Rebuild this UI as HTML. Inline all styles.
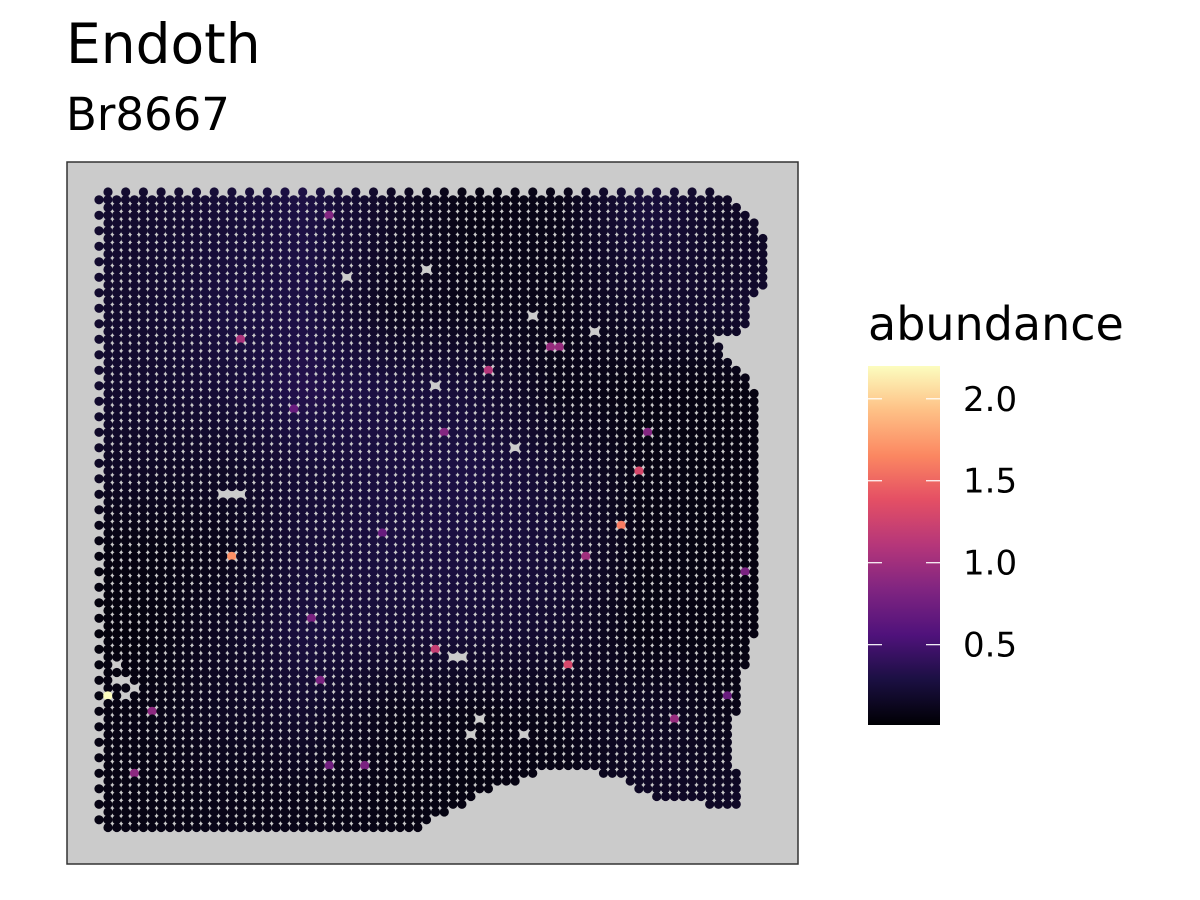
<!DOCTYPE html>
<html><head><meta charset="utf-8"><style>
body{margin:0;background:#fff;}
svg{display:block;font-family:"DejaVu Sans","Liberation Sans",sans-serif;}
</style></head><body>
<svg id="chart" width="1200" height="900" viewBox="0 0 1200 900">
<defs>
<linearGradient id="magma" x1="0" y1="1" x2="0" y2="0">
<stop offset="0" stop-color="#000004"/><stop offset="0.13" stop-color="#1c1044"/><stop offset="0.25" stop-color="#4f127b"/><stop offset="0.38" stop-color="#812581"/><stop offset="0.5" stop-color="#b5367a"/><stop offset="0.63" stop-color="#e55064"/><stop offset="0.75" stop-color="#fb8761"/><stop offset="0.88" stop-color="#fec287"/><stop offset="1" stop-color="#fcfdbf"/>
</linearGradient>
</defs>
<text x="66" y="63" font-size="55" fill="#000">Endoth</text>
<text x="66" y="130" font-size="45" fill="#000">Br8667</text>
<rect x="67" y="162" width="731" height="702" fill="#cbcbcb" stroke="#333" stroke-width="1.5"/>
<g id="spots"></g>
<text x="868" y="340" font-size="46" fill="#000">abundance</text>
<rect x="868" y="366" width="72" height="359" fill="url(#magma)"/>
<g id="legend"></g>
</svg>
<script>
// colour scale
const legendTicks = [0.5, 1.0, 1.5, 2.0];
const valueMin = 0.01, valueMax = 2.2;
// coarse regional mean abundance (8 rows x 8 cols over tissue)
const regionRow0 = [0.20,0.24,0.30,0.16,0.08,0.10,0.26,0.16];
const regionRow1 = [0.20,0.28,0.30,0.12,0.10,0.10,0.18,0.20];
const regionRow2 = [0.20,0.24,0.34,0.28,0.24,0.10,0.07,0.07];
const regionRow3 = [0.16,0.16,0.24,0.28,0.30,0.20,0.08,0.07];
const regionRow4 = [0.07,0.10,0.24,0.28,0.28,0.24,0.08,0.07];
const regionRow5 = [0.05,0.15,0.28,0.24,0.24,0.20,0.07,0.07];
const regionRow6 = [0.08,0.15,0.20,0.10,0.08,0.10,0.16,0.10];
const regionRow7 = [0.08,0.10,0.10,0.08,0.07,0.08,0.16,0.16];
// notable high spots
const hotX = [108,231,625,643,572,432,485,240,555,582,678,152,134,652,441,327,362,326,310,318,748,730,293,605,380];
const hotY = [697,556,522,470,662,652,370,340,350,556,722,713,773,435,435,217,763,763,621,678,573,692,410,782,530];
const hotV = [2.2,1.7,1.6,1.3,1.3,1.2,1.1,1.05,0.95,1.0,0.95,0.9,0.9,0.85,0.85,0.85,0.8,0.75,0.8,0.8,0.8,0.7,0.7,0.7,0.7];
// missing spots
const holeX = [345,423,529,599,433,512,222,230,238,117,450,459,476,467,520,126,134,117,126];
const holeY = [279,273,314,334,389,444,491,491,491,662,655,660,717,733,733,680,690,680,697];
// tissue outline
const rightEdgeY = [190,205,225,240,290,305,330,340,350,370,390,620,650,700,740,770,800,840];
const rightEdgeX = [720,735,756,766,766,745,745,712,722,740,757,757,750,738,730,736,740,730];
const bottomEdgeX = [90,410,420,460,500,540,580,620,660,700,745,780];
const bottomEdgeY = [832,832,825,805,785,772,765,778,800,803,805,805];

const mag = ["#000004","#1c1044","#4f127b","#812581","#b5367a","#e55064","#fb8761","#fec287","#fcfdbf"];
const magPos = [0,0.13,0.25,0.38,0.5,0.63,0.75,0.88,1];
function hex2(c){return [1,3,5].map(i=>parseInt(c.substr(i,2),16));}
function color(v){
  let t=Math.max(0,Math.min(1,(v-valueMin)/(valueMax-valueMin)));
  for(let i=1;i<magPos.length;i++){ if(t<=magPos[i]){
    const f=(t-magPos[i-1])/(magPos[i]-magPos[i-1]); const a=hex2(mag[i-1]), b=hex2(mag[i]);
    return "rgb("+a.map((x,k)=>Math.round(x+(b[k]-x)*f)).join(",")+")";}}
  return mag[8];
}
function interp(xs,ys,x){
  if(x<=xs[0])return ys[0];
  for(let i=1;i<xs.length;i++) if(x<=xs[i]) return ys[i-1]+(ys[i]-ys[i-1])*(x-xs[i-1])/(xs[i]-xs[i-1]);
  return ys[ys.length-1];
}
const regions=[regionRow0,regionRow1,regionRow2,regionRow3,regionRow4,regionRow5,regionRow6,regionRow7];
function regionVal(x,y){
  const gx=Math.max(0,Math.min(7,(x-95)/84.4-0.5)), gy=Math.max(0,Math.min(7,(y-188)/81-0.5));
  const i0=Math.floor(gx), j0=Math.floor(gy), i1=Math.min(7,i0+1), j1=Math.min(7,j0+1);
  const fx=gx-i0, fy=gy-j0;
  const a=regions[j0][i0]*(1-fx)+regions[j0][i1]*fx, b=regions[j1][i0]*(1-fx)+regions[j1][i1]*fx;
  return a*(1-fy)+b*fy;
}
const NS="http://www.w3.org/2000/svg";
const g=document.getElementById("spots");
const dx=8.85, dy=7.75, r=4.6;
for(let row=0; ; row++){
  const y=192+row*dy; if(y>834)break;
  const off=(row%2===0)?9:0;
  const xmax=interp(rightEdgeY,rightEdgeX,y);
  for(let x=99+off; x<=xmax+0.5; x+=dx){
    if(y>interp(bottomEdgeX,bottomEdgeY,x)+1) continue;
    if(row===0 && Math.round((x-108)/dx)%2!==0) continue;
    let hole=false;
    for(let k=0;k<holeX.length;k++) if(Math.abs(holeX[k]-x)<4.5&&Math.abs(holeY[k]-y)<3.9){hole=true;break;}
    if(hole) continue;
    let v=regionVal(x,y);
    for(let k=0;k<hotX.length;k++) if(Math.abs(hotX[k]-x)<4.5&&Math.abs(hotY[k]-y)<3.9){v=hotV[k];break;}
    const c=document.createElementNS(NS,"circle");
    c.setAttribute("cx",x.toFixed(1));c.setAttribute("cy",y.toFixed(1));c.setAttribute("r",r);
    c.setAttribute("fill",color(v));
    
    
    g.appendChild(c);
  }
}
const lg=document.getElementById("legend");
legendTicks.forEach(t=>{
  const y=725-(t-valueMin)/(valueMax-valueMin)*359;
  [[868,882],[926,940]].forEach(p=>{
    const l=document.createElementNS(NS,"line");
    l.setAttribute("x1",p[0]);l.setAttribute("x2",p[1]);l.setAttribute("y1",y);l.setAttribute("y2",y);
    l.setAttribute("stroke","#fff");l.setAttribute("stroke-width","1.2");
    
    
    lg.appendChild(l);
  });
  const tx=document.createElementNS(NS,"text");
  tx.setAttribute("x",963);tx.setAttribute("y",y+12);tx.setAttribute("font-size","34");
  tx.textContent=t.toFixed(1);
  
  
  lg.appendChild(tx);
});
</script>
</body></html>
